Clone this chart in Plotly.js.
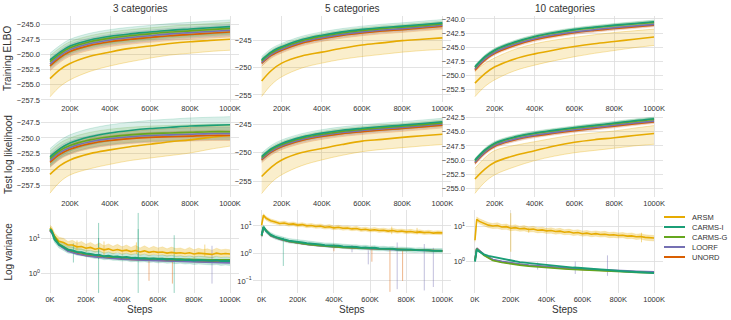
<!DOCTYPE html>
<html><head><meta charset="utf-8">
<script src="https://cdn.plot.ly/plotly-3.0.1.min.js"></script>
<style>html,body{margin:0;padding:0;background:#fff}</style>
</head><body><div id="chart" style="width:731px;height:320px"></div>
<script>
const METHODS = ['ARSM','CARMS-I','CARMS-G','LOORF','UNORD'];
const COLORS = ['#e6ab02','#1b9e77','#66a61e','#7570b3','#d95f02'];
const COLUMN_TITLES = ['3 categories','5 categories','10 categories'];
const ROW_TITLES = ['Training ELBO','Test log likelihood','Log variance'];
const X_TOP_K = [100,150,200,300,400,500,600,700,800,900,1000];
const X_VAR_K = [0,10,25,50,75,100,125,150,175,200,225,250,275,300,325,350,375,400,425,450,475,500,525,550,575,600,625,650,675,700,725,750,775,800,825,850,875,900,925,950,975,1000];
const X_VAR_COARSE_K = [0,10,50,100,150,200,250,300,350,400,450,500,550,600,650,700,750,800,850,900,950,1000];
const TOP_TICKS_K = [200,400,600,800,1000];
const BOTTOM_TICKS_K = [0,200,400,600,800,1000];

// Training ELBO, 3 categories
const TR3_ARSM = [-254.0,-252.5,-251.5,-250.3,-249.6,-249.0,-248.6,-248.2,-247.9,-247.7,-247.5];
const TR3_ARSM_LO = [-257.0,-255.3,-254.2,-252.8,-251.9,-251.2,-250.6,-250.1,-249.8,-249.5,-249.3];
const TR3_ARSM_HI = [-251.0,-249.7,-248.8,-247.8,-247.2,-246.7,-246.4,-246.1,-245.9,-245.8,-245.7];
const TR3_CARMSI = [-250.9,-249.6,-248.6,-247.6,-247.0,-246.6,-246.3,-246.0,-245.8,-245.6,-245.4];
const TR3_CARMSG = [-251.2,-249.9,-248.9,-247.9,-247.3,-246.9,-246.6,-246.3,-246.1,-245.9,-245.7];
const TR3_LOORF = [-251.6,-250.2,-249.2,-248.2,-247.6,-247.2,-246.9,-246.6,-246.4,-246.2,-246.0];
const TR3_UNORD = [-251.9,-250.5,-249.5,-248.5,-247.9,-247.5,-247.2,-246.9,-246.7,-246.5,-246.3];
const TR3_SPREAD = [1.1,1.0,0.9,0.8];

// Training ELBO, 5 categories
const TR5_ARSM = [-252.45,-250.5,-249.2,-247.9,-247.2,-246.5,-245.9,-245.5,-245.1,-244.85,-244.6];
const TR5_ARSM_LO = [-255.3,-253.1,-251.7,-250.1,-249.2,-248.5,-248.0,-247.6,-247.2,-246.9,-246.7];
const TR5_ARSM_HI = [-249.8,-247.9,-246.7,-245.5,-244.7,-244.1,-243.7,-243.4,-243.2,-243.0,-242.9];
const TR5_CARMSI = [-248.6,-247.1,-246.2,-244.9,-244.1,-243.5,-243.05,-242.7,-242.45,-242.15,-241.85];
const TR5_CARMSG = [-248.8,-247.3,-246.4,-245.1,-244.3,-243.7,-243.25,-242.9,-242.65,-242.35,-242.05];
const TR5_LOORF = [-249.05,-247.55,-246.65,-245.35,-244.55,-243.95,-243.5,-243.15,-242.9,-242.6,-242.3];
const TR5_UNORD = [-249.25,-247.75,-246.85,-245.55,-244.75,-244.15,-243.7,-243.35,-243.1,-242.8,-242.5];
const TR5_SPREAD = [0.6,0.5,0.5,0.5];

// Training ELBO, 10 categories
const TR10_ARSM = [-251.4,-249.7,-248.5,-247.1,-246.2,-245.5,-244.9,-244.4,-244.0,-243.6,-243.2];
const TR10_ARSM_LO = [-253.8,-252.0,-250.8,-249.2,-248.2,-247.4,-246.7,-246.1,-245.6,-245.1,-244.7];
const TR10_ARSM_HI = [-249.2,-247.9,-246.9,-245.4,-244.4,-243.75,-243.25,-242.8,-242.4,-242.1,-241.8];
const TR10_CARMSI = [-248.5,-246.7,-245.5,-244.1,-243.1,-242.4,-241.85,-241.45,-241.1,-240.8,-240.5];
const TR10_CARMSG = [-248.6,-246.8,-245.6,-244.2,-243.2,-242.5,-241.95,-241.55,-241.2,-240.9,-240.6];
const TR10_LOORF = [-248.9,-247.1,-245.9,-244.5,-243.5,-242.8,-242.3,-241.9,-241.55,-241.25,-240.95];
const TR10_UNORD = [-249.1,-247.3,-246.1,-244.7,-243.7,-243.0,-242.45,-242.05,-241.7,-241.4,-241.1];
const TR10_SPREAD = [0.3,0.3,0.3,0.3];

// Test log likelihood, 3 categories
const TE3_ARSM = [-255.8,-254.4,-253.5,-252.5,-251.9,-251.4,-251.0,-250.6,-250.3,-249.9,-249.6];
const TE3_ARSM_LO = [-258.8,-257.0,-255.9,-254.9,-254.2,-253.6,-253.2,-252.8,-252.4,-251.8,-251.3];
const TE3_ARSM_HI = [-252.8,-251.6,-250.8,-249.9,-249.4,-249.0,-248.7,-248.5,-248.3,-248.1,-248.0];
const TE3_CARMSI = [-253.0,-251.7,-250.8,-249.8,-249.2,-248.8,-248.5,-248.3,-248.1,-248.0,-247.9];
const TE3_CARMSG = [-253.3,-252.0,-251.2,-250.3,-249.8,-249.5,-249.3,-249.2,-249.1,-249.0,-249.0];
const TE3_LOORF = [-253.6,-252.3,-251.5,-250.6,-250.1,-249.8,-249.6,-249.5,-249.4,-249.3,-249.3];
const TE3_UNORD = [-253.9,-252.6,-251.8,-250.9,-250.4,-250.1,-249.9,-249.8,-249.7,-249.6,-249.6];
const TE3_SPREAD = [1.3,1.2,1.0,0.8];

// Test log likelihood, 5 categories
const TE5_ARSM = [-254.2,-252.5,-251.3,-250.0,-249.3,-248.6,-248.0,-247.7,-247.35,-247.05,-246.8];
const TE5_ARSM_LO = [-257.2,-255.2,-253.9,-252.3,-251.3,-250.5,-249.85,-249.45,-249.15,-248.85,-248.6];
const TE5_ARSM_HI = [-251.3,-249.9,-248.8,-247.8,-247.2,-246.6,-246.1,-245.8,-245.6,-245.4,-245.2];
const TE5_CARMSI = [-250.7,-249.3,-248.4,-247.3,-246.6,-246.1,-245.75,-245.45,-245.2,-244.9,-244.6];
const TE5_CARMSG = [-250.9,-249.5,-248.6,-247.5,-246.8,-246.3,-245.95,-245.65,-245.4,-245.1,-244.8];
const TE5_LOORF = [-251.1,-249.7,-248.8,-247.7,-247.0,-246.5,-246.15,-245.85,-245.6,-245.3,-245.0];
const TE5_UNORD = [-251.3,-249.9,-249.0,-247.9,-247.2,-246.7,-246.35,-246.05,-245.8,-245.5,-245.2];
const TE5_SPREAD = [0.6,0.5,0.5,0.5];

// Test log likelihood, 10 categories
const TE10_ARSM = [-253.35,-251.6,-250.4,-249.2,-248.35,-247.5,-246.85,-246.4,-246.05,-245.65,-245.3];
const TE10_ARSM_LO = [-255.9,-253.9,-252.6,-251.2,-250.1,-249.3,-248.7,-248.3,-247.9,-247.5,-247.2];
const TE10_ARSM_HI = [-251.45,-249.6,-248.3,-247.4,-246.75,-246.1,-245.55,-245.2,-244.85,-244.35,-243.9];
const TE10_CARMSI = [-250.0,-248.2,-247.0,-245.9,-245.2,-244.7,-244.25,-243.85,-243.45,-243.05,-242.7];
const TE10_CARMSG = [-250.1,-248.3,-247.1,-246.0,-245.3,-244.8,-244.35,-243.95,-243.55,-243.15,-242.8];
const TE10_LOORF = [-250.4,-248.6,-247.4,-246.3,-245.6,-245.1,-244.65,-244.25,-243.85,-243.45,-243.1];
const TE10_UNORD = [-250.55,-248.75,-247.55,-246.45,-245.75,-245.25,-244.8,-244.4,-244.0,-243.6,-243.25];
const TE10_SPREAD = [0.3,0.3,0.3,0.3];

// Log variance, 3 categories
const LV3_ARSM = [19.5,17.0,11.2,8.1,7.4,6.3,6.3,5.6,5.7,5.1,5.4,4.8,5.1,4.6,4.9,4.4,4.7,4.3,4.5,4.1,4.4,4.0,4.3,3.9,4.1,3.9,4.0,3.7,3.9,3.7,3.8,3.6,3.8,3.5,3.7,3.6,3.6,3.4,3.7,3.5,3.6,3.5];
const LV3_ARSM_LO = [16,14,9.5,6.8,6.0,5.0,5.2,4.4,4.7,4.1,4.5,3.9,4.2,3.7,4.0,3.5,3.9,3.4,3.7,3.3,3.6,3.2,3.5,3.1,3.4,3.2,3.3,3.0,3.2,3.0,3.1,2.9,3.1,2.8,3.0,2.9,2.9,2.7,3.0,2.8,2.9,2.8];
const LV3_ARSM_HI = [23,21,14,10.5,9.8,8.0,8.6,7.2,8.0,6.6,7.5,6.3,7.2,6.0,6.8,5.8,6.6,5.6,6.3,5.4,6.2,5.2,6.0,5.1,5.8,5.2,5.6,4.9,5.5,5.0,5.2,4.7,5.4,4.6,5.1,4.7,4.9,4.5,5.1,4.6,4.8,4.6];
const LV3_CARMSI = [18.0,15.5,9.0,6.4,5.5,4.6,4.4,4.0,3.9,3.6,3.5,3.3,3.3,3.0,3.1,2.9,2.95,2.8,2.85,2.7,2.75,2.6,2.65,2.55,2.6,2.5,2.55,2.45,2.5,2.4,2.45,2.35,2.4,2.3,2.35,2.3,2.3,2.25,2.3,2.2,2.25,2.2];
const LV3_CARMSI_LO = [15,13,7.5,5.2,4.4,3.7,3.6,3.2,3.1,2.9,2.8,2.6,2.6,2.4,2.45,2.3,2.3,2.2,2.25,2.1,2.15,2.05,2.1,2.0,2.05,1.95,2.0,1.9,1.95,1.85,1.9,1.8,1.85,1.75,1.8,1.75,1.75,1.7,1.75,1.65,1.7,1.65];
const LV3_CARMSI_HI = [21,18,11,8.0,7.0,5.8,5.6,5.0,4.9,4.5,4.4,4.1,4.2,3.7,3.9,3.6,3.7,3.5,3.6,3.4,3.5,3.3,3.4,3.2,3.3,3.15,3.25,3.1,3.2,3.0,3.1,2.95,3.05,2.9,3.0,2.9,2.9,2.85,2.95,2.8,2.85,2.8];
const LV3_CARMSG = [17,15,6.8,4.7,4.0,3.5,3.3,3.0,2.9,2.8,2.75,2.7,2.6,2.6,2.55,2.5,2.5,2.45,2.45,2.4,2.4,2.4];
const LV3_LOORF = [16,14,6.2,4.2,3.5,3.1,2.9,2.7,2.6,2.5,2.4,2.35,2.3,2.25,2.2,2.15,2.1,2.1,2.05,2.0,2.0,1.95];
const LV3_UNORD = [16.5,14.5,6.5,4.4,3.6,3.2,3.0,2.8,2.65,2.55,2.45,2.4,2.35,2.3,2.25,2.2,2.15,2.15,2.1,2.1,2.05,2.05];
const LV3_SPIKE_M = [1,1,1,1,1,3,4,4,0,0,0,0,1];
const LV3_SPIKE_X_K = [270,270,490,490,690,900,550,680,300,150,480,860,130];
const LV3_SPIKE_HI = [27,10,52,18,12,6,2.5,2.3,8,8.5,7.5,6.5,7];
const LV3_SPIKE_LO = [0.27,2.5,0.27,2.4,0.27,0.5,0.6,0.5,3,4.5,3.5,3,2];

// Log variance, 5 categories
const LV5_ARSM = [10.7,24.5,19.0,15.5,13.8,12.3,12.8,11.5,11.9,10.7,11.2,10.1,10.4,9.6,9.9,9.0,9.3,8.5,8.9,8.2,8.4,7.8,8.1,7.3,7.6,7.0,7.3,6.8,7.0,6.5,6.8,6.3,6.5,6.1,6.3,5.9,6.1,5.7,5.9,5.5,5.7,5.6];
const LV5_ARSM_LO = [9,21,16,13,11.8,10.6,10.8,9.8,10.1,9.2,9.5,8.6,8.9,8.2,8.4,7.7,7.9,7.3,7.6,7.0,7.2,6.7,6.9,6.3,6.5,6.0,6.3,5.8,6.0,5.6,5.8,5.4,5.6,5.2,5.4,5.1,5.2,4.9,5.0,4.8,4.9,4.8];
const LV5_ARSM_HI = [12.5,28,22,18,16,14.3,15,13.4,14,12.5,13.2,11.8,12.3,11.3,11.8,10.6,11.2,10.0,10.6,9.7,10.0,9.2,9.7,8.6,9.0,8.3,8.7,8.0,8.3,7.7,8.1,7.5,7.7,7.2,7.5,7.0,7.2,6.7,7.0,6.5,6.7,6.6];
const LV5_CARMSI = [4.6,9.3,6.5,4.8,4.0,3.5,3.2,2.9,2.8,2.6,2.5,2.35,2.3,2.15,2.1,2.0,2.0,1.9,1.9,1.8,1.8,1.7,1.72,1.62,1.65,1.57,1.6,1.5,1.52,1.45,1.48,1.4,1.42,1.36,1.38,1.32,1.34,1.28,1.3,1.25,1.27,1.25];
const LV5_CARMSI_LO = [3.8,8,5.4,4.0,3.3,2.9,2.65,2.4,2.3,2.15,2.05,1.95,1.9,1.78,1.74,1.65,1.65,1.57,1.57,1.49,1.49,1.41,1.42,1.34,1.36,1.3,1.32,1.24,1.26,1.2,1.22,1.16,1.17,1.12,1.14,1.09,1.1,1.06,1.07,1.03,1.05,1.03];
const LV5_CARMSI_HI = [5.5,11,7.8,5.8,4.8,4.2,3.85,3.5,3.35,3.1,3.0,2.8,2.75,2.6,2.5,2.4,2.4,2.3,2.3,2.15,2.15,2.05,2.05,1.95,1.98,1.88,1.92,1.8,1.82,1.74,1.78,1.68,1.7,1.63,1.65,1.58,1.6,1.54,1.56,1.5,1.52,1.5];
const LV5_CARMSG = [4.4,9.0,4.6,3.4,2.8,2.4,2.15,2.0,1.85,1.75,1.65,1.6,1.55,1.5,1.45,1.4,1.37,1.34,1.3,1.28,1.25,1.23];
const LV5_LOORF = [4.2,8.5,4.4,3.3,2.7,2.35,2.1,1.95,1.8,1.72,1.65,1.58,1.52,1.48,1.44,1.4,1.36,1.33,1.3,1.27,1.25,1.22];
const LV5_UNORD = [4.3,8.8,4.5,3.35,2.75,2.4,2.15,1.98,1.85,1.75,1.68,1.6,1.55,1.5,1.46,1.42,1.38,1.35,1.32,1.29,1.27,1.24];
const LV5_SPIKE_M = [4,3,4,3,3,1,3,4,0,0,4,3];
const LV5_SPIKE_X_K = [710,750,780,900,950,120,590,610,720,860,400,500];
const LV5_SPIKE_HI = [1.6,2.5,1.4,2.2,1.6,3.8,1.3,1.8,9.5,8.5,2.2,2.0];
const LV5_SPIKE_LO = [0.04,0.05,0.1,0.045,0.06,0.35,0.4,0.5,5,5,1.2,1.1];

// Log variance, 10 categories
const LV10_ARSM = [4.0,15.4,13.5,11.8,10.6,10.0,10.3,9.4,9.6,8.7,9.0,8.4,8.6,8.0,8.2,7.6,7.8,7.3,7.5,7.0,7.2,6.7,6.9,6.4,6.6,6.1,6.3,5.9,6.1,5.8,5.9,5.6,5.7,5.4,5.5,5.2,5.3,5.0,5.1,4.8,4.7,4.6];
const LV10_ARSM_LO = [3.5,13.5,11.5,10.0,9.0,8.5,8.6,8.0,8.1,7.4,7.6,7.1,7.3,6.8,6.9,6.4,6.6,6.2,6.3,5.9,6.1,5.7,5.8,5.4,5.6,5.2,5.3,5.0,5.2,4.9,5.0,4.7,4.8,4.6,4.7,4.4,4.5,4.2,4.3,4.0,3.9,3.8];
const LV10_ARSM_HI = [4.8,18,16,14,12.5,11.8,12.4,11.0,11.4,10.2,10.8,9.9,10.3,9.4,9.8,9.0,9.3,8.6,8.9,8.3,8.6,7.9,8.2,7.6,7.9,7.2,7.5,7.0,7.3,6.9,7.1,6.6,6.8,6.4,6.6,6.2,6.4,5.9,6.1,5.7,5.6,5.4];
const LV10_CARMSI = [1.0,2.2,1.9,1.6,1.45,1.36,1.27,1.2,1.13,1.05,1.02,0.97,0.94,0.9,0.87,0.84,0.82,0.79,0.77,0.75,0.73,0.71,0.7,0.68,0.67,0.65,0.64,0.62,0.61,0.6,0.59,0.57,0.56,0.55,0.54,0.53,0.52,0.51,0.5,0.5,0.49,0.48];
const LV10_CARMSG = [1.05,2.3,1.5,1.08,0.95,0.86,0.8,0.75,0.71,0.67,0.64,0.62,0.6,0.58,0.56,0.55,0.53,0.52,0.51,0.5,0.49,0.48];
const LV10_LOORF = [1.1,2.4,1.6,1.15,1.02,0.92,0.86,0.8,0.76,0.72,0.69,0.66,0.64,0.62,0.6,0.58,0.57,0.56,0.55,0.54,0.53,0.52];
const LV10_UNORD = [1.08,2.35,1.55,1.12,0.98,0.9,0.83,0.78,0.74,0.7,0.67,0.65,0.62,0.6,0.58,0.57,0.55,0.54,0.53,0.52,0.51,0.5];
const LV10_SPIKE_M = [0,3,0,3,0,3];
const LV10_SPIKE_X_K = [200,740,930,560,300,350];
const LV10_SPIKE_HI = [23,1.5,6.5,1.0,8.8,0.95];
const LV10_SPIKE_LO = [1.9,0.4,3.5,0.45,6.5,0.6];

// ---------- build ----------
const W = 731, H = 320;
const FONT = 'Liberation Sans, Arial, sans-serif';
const TXT = '#333333';
const GRID = '#dcdcdc';
const K = v => v * 1000;
function rgba(hex, a) {
  const n = parseInt(hex.slice(1), 16);
  return `rgba(${(n>>16)&255},${(n>>8)&255},${n&255},${a})`;
}
const COL_PX = [[41,239],[252.6,451.4],[466,663]];
const ROW_PX = [[16,102],[113,197],[210,293]];
const xd = p => p / W, yd = p => 1 - p / H;

const traces = [];
function axKey(i){ return i===1 ? '' : String(i); }

function topPanel(idx, arsm, lo, hi, others, spread) {
  const xa = 'x'+axKey(idx), ya = 'y'+axKey(idx);
  const x = X_TOP_K.map(K);
  const base = {xaxis:xa, yaxis:ya, type:'scatter', mode:'lines', showlegend:false, hoverinfo:'skip'};
  traces.push(Object.assign({}, base, {x, y:lo, line:{color:rgba(COLORS[0],0.45), width:0.7, shape:'spline'}}));
  traces.push(Object.assign({}, base, {x, y:hi, fill:'tonexty', fillcolor:rgba(COLORS[0],0.2), line:{color:rgba(COLORS[0],0.45), width:0.7, shape:'spline'}}));
  for (let k = 4; k >= 1; k--) {
    const m = others[k-1], s = spread[k-1];
    traces.push(Object.assign({}, base, {x, y:m.map(v=>v-s), line:{color:rgba(COLORS[k],0.3), width:0.6, shape:'spline'}}));
    traces.push(Object.assign({}, base, {x, y:m.map(v=>v+s), fill:'tonexty', fillcolor:rgba(COLORS[k],0.16), line:{color:rgba(COLORS[k],0.3), width:0.6, shape:'spline'}}));
  }
  traces.push(Object.assign({}, base, {x, y:arsm, line:{color:COLORS[0], width:1.6, shape:'spline'}}));
  for (let k = 4; k >= 1; k--) {
    traces.push(Object.assign({}, base, {x, y:others[k-1], line:{color:COLORS[k], width:1.6, shape:'spline'}}));
  }
}

function varPanel(idx, arsm, arsmLo, arsmHi, carmsi, carmsiLo, carmsiHi, carmsg, loorf, unord, sm, sx, shi, slo) {
  const xa = 'x'+axKey(idx), ya = 'y'+axKey(idx);
  const base = {xaxis:xa, yaxis:ya, type:'scatter', mode:'lines', showlegend:false, hoverinfo:'skip'};
  const coarse = X_VAR_COARSE_K.map(K), fine = X_VAR_K.map(K);
  // noise bands
  traces.push(Object.assign({}, base, {x:fine, y:arsmLo, line:{color:rgba(COLORS[0],0.35), width:0.5}}));
  traces.push(Object.assign({}, base, {x:fine, y:arsmHi, fill:'tonexty', fillcolor:rgba(COLORS[0],0.3), line:{color:rgba(COLORS[0],0.35), width:0.5}}));
  if (carmsiLo) {
    traces.push(Object.assign({}, base, {x:fine, y:carmsiLo, line:{color:rgba(COLORS[1],0.3), width:0.5}}));
    traces.push(Object.assign({}, base, {x:fine, y:carmsiHi, fill:'tonexty', fillcolor:rgba(COLORS[1],0.25), line:{color:rgba(COLORS[1],0.3), width:0.5}}));
  }
  // spikes (light)
  for (let k = 0; k < 5; k++) {
    const xs = [], ys = [];
    sm.forEach((m,j) => { if (m===k) { xs.push(K(sx[j]),K(sx[j]),null); ys.push(shi[j],slo[j],null); } });
    if (xs.length) traces.push(Object.assign({}, base, {x:xs, y:ys, connectgaps:false, line:{color:rgba(COLORS[k],0.45), width:1}}));
  }
  traces.push(Object.assign({}, base, {x:fine, y:arsm, line:{color:COLORS[0], width:1.6}}));
  traces.push(Object.assign({}, base, {x:coarse, y:unord, line:{color:COLORS[4], width:1.6}}));
  traces.push(Object.assign({}, base, {x:coarse, y:loorf, line:{color:COLORS[3], width:1.6}}));
  traces.push(Object.assign({}, base, {x:coarse, y:carmsg, line:{color:COLORS[2], width:1.6}}));
  traces.push(Object.assign({}, base, {x:fine, y:carmsi, line:{color:COLORS[1], width:2}}));
}

topPanel(1, TR3_ARSM, TR3_ARSM_LO, TR3_ARSM_HI, [TR3_CARMSI,TR3_CARMSG,TR3_LOORF,TR3_UNORD], TR3_SPREAD);
topPanel(2, TR5_ARSM, TR5_ARSM_LO, TR5_ARSM_HI, [TR5_CARMSI,TR5_CARMSG,TR5_LOORF,TR5_UNORD], TR5_SPREAD);
topPanel(3, TR10_ARSM, TR10_ARSM_LO, TR10_ARSM_HI, [TR10_CARMSI,TR10_CARMSG,TR10_LOORF,TR10_UNORD], TR10_SPREAD);
topPanel(4, TE3_ARSM, TE3_ARSM_LO, TE3_ARSM_HI, [TE3_CARMSI,TE3_CARMSG,TE3_LOORF,TE3_UNORD], TE3_SPREAD);
topPanel(5, TE5_ARSM, TE5_ARSM_LO, TE5_ARSM_HI, [TE5_CARMSI,TE5_CARMSG,TE5_LOORF,TE5_UNORD], TE5_SPREAD);
topPanel(6, TE10_ARSM, TE10_ARSM_LO, TE10_ARSM_HI, [TE10_CARMSI,TE10_CARMSG,TE10_LOORF,TE10_UNORD], TE10_SPREAD);
varPanel(7, LV3_ARSM, LV3_ARSM_LO, LV3_ARSM_HI, LV3_CARMSI, LV3_CARMSI_LO, LV3_CARMSI_HI, LV3_CARMSG, LV3_LOORF, LV3_UNORD, LV3_SPIKE_M, LV3_SPIKE_X_K, LV3_SPIKE_HI, LV3_SPIKE_LO);
varPanel(8, LV5_ARSM, LV5_ARSM_LO, LV5_ARSM_HI, LV5_CARMSI, LV5_CARMSI_LO, LV5_CARMSI_HI, LV5_CARMSG, LV5_LOORF, LV5_UNORD, LV5_SPIKE_M, LV5_SPIKE_X_K, LV5_SPIKE_HI, LV5_SPIKE_LO);
varPanel(9, LV10_ARSM, LV10_ARSM_LO, LV10_ARSM_HI, LV10_CARMSI, null, null, LV10_CARMSG, LV10_LOORF, LV10_UNORD, LV10_SPIKE_M, LV10_SPIKE_X_K, LV10_SPIKE_HI, LV10_SPIKE_LO);

const Y_RANGES = [[-257.85,-243.65],[-256.3,-240.6],[-254.75,-239.47],[-259.41,-246.02],[-257.8,-243.07],[-256.54,-241.67],[-0.57,1.8],[-1.44,1.58],[-0.88,1.45]];
const Y_TICKS = [[-257.5,-255,-252.5,-250,-247.5,-245],[-255,-250,-245],[-252.5,-250,-247.5,-245,-242.5,-240],
                 [-257.5,-255,-252.5,-250,-247.5],[-255,-250,-245],[-255,-252.5,-250,-247.5,-245,-242.5],
                 [1,10],[0.1,1,10],[1,10]];
const Y_FMT = ['.1f','d','.1f','.1f','d','.1f'];
const LOG_LABEL = {0.1:'10<sup>−1</sup>', 1:'10<sup>0</sup>', 10:'10<sup>1</sup>'};

const layout = {
  width:W, height:H, margin:{l:0,r:0,t:0,b:0}, paper_bgcolor:'#fff', plot_bgcolor:'#fff',
  font:{family:FONT, size:7.5, color:TXT}, showlegend:false, annotations:[], shapes:[]
};
for (let r = 0; r < 3; r++) for (let c = 0; c < 3; c++) {
  const i = r*3+c+1;
  const tickK = r < 2 ? TOP_TICKS_K : BOTTOM_TICKS_K;
  layout['xaxis'+axKey(i)] = {
    domain:[xd(COL_PX[c][0]), xd(COL_PX[c][1])], anchor:'y'+axKey(i),
    range: r < 2 ? [55000,1045000] : [-50000,1050000],
    tickvals: tickK.map(K), ticktext: tickK.map(v=>v+'K'),
    showgrid:true, gridcolor:GRID, gridwidth:0.8, zeroline:false, showline:false, ticks:'',
    tickfont:{size:7.5, color:TXT}, automargin:false, fixedrange:true
  };
  const ya = {
    domain:[yd(ROW_PX[r][1]), yd(ROW_PX[r][0])], anchor:'x'+axKey(i),
    range:Y_RANGES[i-1], tickvals:Y_TICKS[i-1],
    showgrid:true, gridcolor:GRID, gridwidth:0.8, zeroline:false, showline:false, ticks:'',
    tickfont:{size:7.5, color:TXT}, automargin:false, fixedrange:true
  };
  if (r === 2) { ya.type = 'log'; ya.ticktext = Y_TICKS[i-1].map(v=>LOG_LABEL[v]); }
  else { ya.tickformat = Y_FMT[i-1]; }
  layout['yaxis'+axKey(i)] = ya;
}
COLUMN_TITLES.forEach((t,c) => layout.annotations.push({text:t, xref:'paper', yref:'paper',
  x:xd((COL_PX[c][0]+COL_PX[c][1])/2), y:yd(9), xanchor:'center', yanchor:'middle', showarrow:false,
  font:{size:10, color:TXT}}));
ROW_TITLES.forEach((t,r) => layout.annotations.push({text:t, xref:'paper', yref:'paper',
  x:xd(8), y:yd((ROW_PX[r][0]+ROW_PX[r][1])/2), xanchor:'center', yanchor:'middle', textangle:-90, showarrow:false,
  font:{size:10, color:TXT}}));
COL_PX.forEach(cp => layout.annotations.push({text:'Steps', xref:'paper', yref:'paper',
  x:xd((cp[0]+cp[1])/2), y:yd(309), xanchor:'center', yanchor:'middle', showarrow:false,
  font:{size:10, color:TXT}}));
METHODS.forEach((m,k) => {
  const yy = 217 + 10*k;
  layout.shapes.push({type:'line', xref:'paper', yref:'paper', x0:xd(664), x1:xd(685), y0:yd(yy), y1:yd(yy),
    line:{color:COLORS[k], width:2}});
  layout.annotations.push({text:m, xref:'paper', yref:'paper', x:xd(690), y:yd(yy), xanchor:'left', yanchor:'middle',
    showarrow:false, font:{size:7.5, color:TXT}});
});
Plotly.newPlot('chart', traces, layout, {staticPlot:true, displayModeBar:false});
</script></body></html>
